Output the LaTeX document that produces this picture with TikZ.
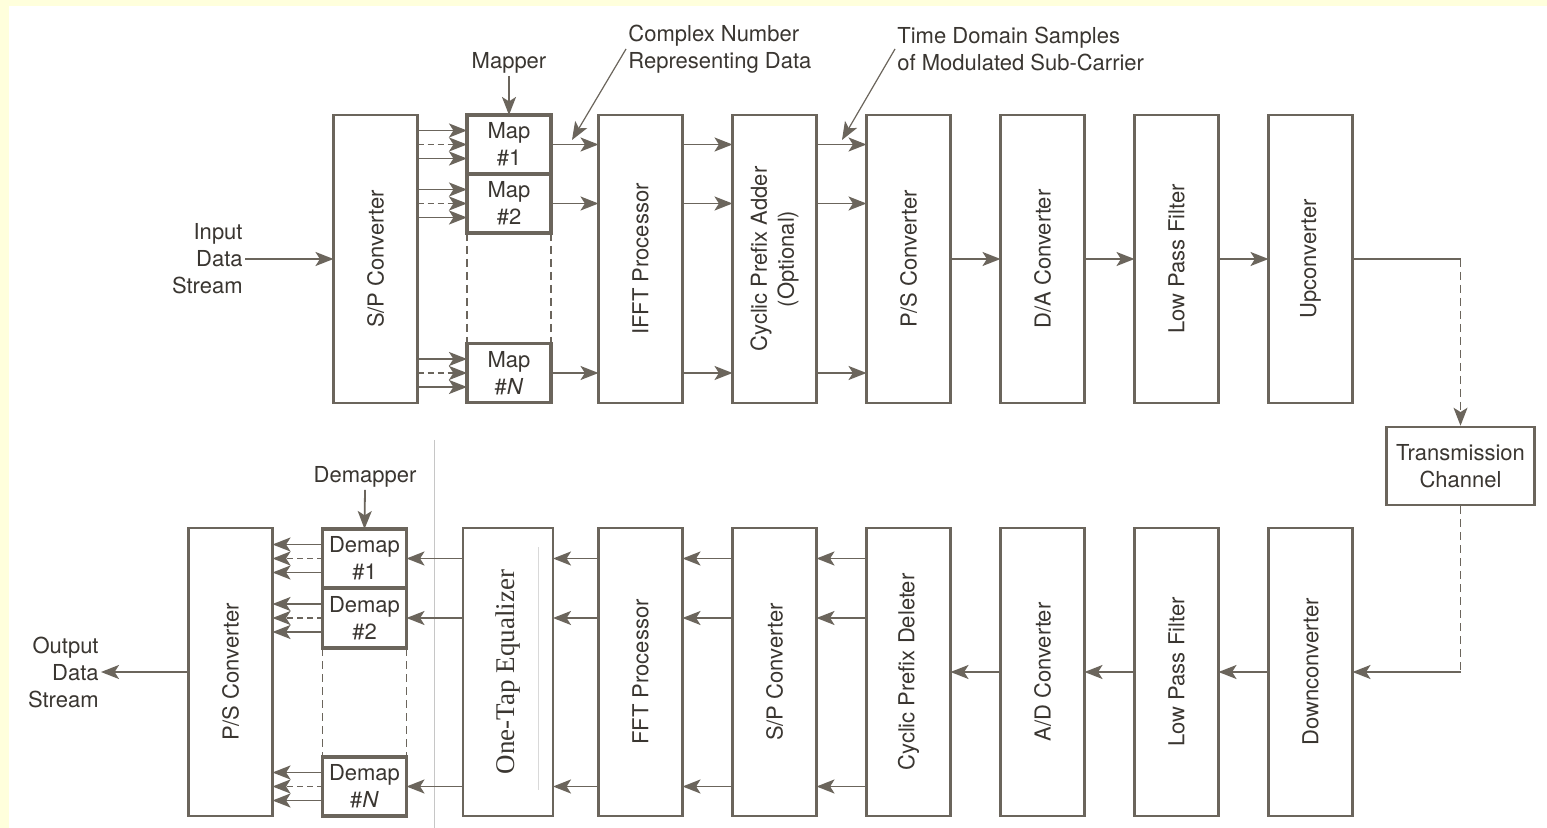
\documentclass[tikz,border=0pt]{standalone}
\usepackage{fontspec}
\setmainfont{TeX Gyre Heros}
\newfontfamily\eqfont{Liberation Serif}
\usetikzlibrary{arrows.meta,positioning,calc}
\definecolor{linec}{HTML}{6B655C}
\definecolor{txtc}{HTML}{3A3631}
\definecolor{scanyellow}{HTML}{FFFFDC}
\newcommand{\lbl}{\fontsize{11}{13.5}\selectfont}
\tikzset{
  block/.style={
    draw=linec,
    line width=1.3pt,
    minimum width=42pt,
    minimum height=144pt,
    inner sep=0pt,
    outer sep=0pt
  },
  mapblock/.style={
    draw=linec,
    line width=1.7pt,
    minimum width=42pt,
    minimum height=29.5pt,
    inner sep=0pt,
    outer sep=0pt,
    align=center,
    text=txtc,
    font=\lbl
  },
  vtext/.style={rotate=90, align=center, text=txtc, font=\lbl},
  note/.style={text=txtc, font=\lbl, inner sep=1pt},
  flow/.style={draw=linec, line width=0.9pt, -{Stealth[length=9pt,width=7pt,inset=2.2pt]}},
  dflow/.style={flow, dash pattern=on 3pt off 2pt},
  wire/.style={draw=linec, line width=0.9pt},
  guide/.style={draw=linec, line width=0.6pt, dash pattern=on 4pt off 2.5pt}
}

\begin{document}
\begin{tikzpicture}[x=0.5pt, y=-0.5pt, node distance=25pt]
\fill[white] (0,0) rectangle (1547,828);
\fill[scanyellow] (0,0) rectangle (1547,6);
\fill[scanyellow] (0,0) rectangle (9,828);
\useasboundingbox (0,0) rectangle (1547,828);

% transmitter
\node[block, label={[vtext]center:S/P Converter}] (sp) at (375.5,259) {};
\node[mapblock] (m1) at (509,144.5) {Map\\\#1};
\node[mapblock, below=0pt of m1] (m2) {Map\\\#2};
\node[mapblock] (mN) at (509,373) {Map\\\#\textit{N}};
\node[block, label={[vtext]center:IFFT Processor}] (ifft) at (640.5,259) {};
\node[block, right=of ifft, label={[vtext]center:{Cyclic Prefix Adder\\(Optional)}}] (cpa) {};
\node[block, right=of cpa, label={[vtext]center:P/S Converter}] (ps) {};
\node[block, right=of ps, label={[vtext]center:D/A Converter}] (da) {};
\node[block, right=of da, label={[vtext]center:Low Pass Filter}] (lpf) {};
\node[block, right=of lpf, label={[vtext]center:Upconverter}] (up) {};

\node[note, align=right, anchor=east] (in) at (245,259) {Input\\Data\\Stream};
\node[note] (mapper) at (509,63) {Mapper};
\node[note, align=left, anchor=west] (cn) at (626,49) {Complex Number\\Representing Data};
\node[note, align=left, anchor=west] (td) at (895,49) {Time Domain Samples\\of Modulated Sub-Carrier};
\coordinate (cnp) at (572,140);
\coordinate (tdp) at (842,140);

% channel
\node[draw=linec, line width=1.3pt, minimum width=74pt, minimum height=39pt, align=center, text=txtc, font=\lbl, inner sep=0pt] (tc) at (1460.5,466) {Transmission\\Channel};

% receiver
\node[block, label={[vtext]center:Downconverter}] (dc) at (1310.5,672) {};
\node[block, left=of dc, label={[vtext]center:Low Pass Filter}] (lpfb) {};
\node[block, left=of lpfb, label={[vtext]center:A/D Converter}] (ad) {};
\node[block, left=of ad, label={[vtext]center:Cyclic Prefix Deleter}] (cpd) {};
\node[block, left=of cpd, label={[vtext]center:S/P Converter}] (spb) {};
\node[block, left=of spb, label={[vtext]center:FFT Processor}] (fft) {};
\node[block, minimum width=45pt, left=22.75pt of fft, label={[vtext, font=\eqfont\fontsize{13.5}{15}\selectfont]center:One-Tap Equalizer}] (eq) {};
\node[mapblock] (dm1) at (364.5,558.5) {Demap\\\#1};
\node[mapblock, minimum height=30pt, below=0pt of dm1] (dm2) {Demap\\\#2};
\node[mapblock] (dmN) at (364.5,786.5) {Demap\\\#\textit{N}};
\node[block, label={[vtext]center:P/S Converter}] (psb) at (230.5,672) {};

\node[note, align=right, anchor=east] (out) at (101,672) {Output\\Data\\Stream};
\node[note] (demapper) at (365,477) {Demapper};

\draw[gray!45, line width=0.4pt] (434,440) -- (434,828);
\draw[gray!30, line width=0.4pt] (538,547) -- (538,790);

% transmitter links
\draw[flow] (in.east) -- (sp.west);
\draw[flow] (mapper.south) -- (m1.north);
\foreach \m in {m1,m2,mN}{
  \draw[flow] ($(sp.east|-\m.west)+(0,-14)$) -- ($(\m.west)+(0,-14)$);
  \draw[dflow] (sp.east|-\m.west) -- (\m.west);
  \draw[flow] ($(sp.east|-\m.west)+(0,14)$) -- ($(\m.west)+(0,14)$);
  \draw[flow] (\m.east) -- (ifft.west|-\m.east);
  \draw[flow] (ifft.east|-\m.east) -- (cpa.west|-\m.east);
  \draw[flow] (cpa.east|-\m.east) -- (ps.west|-\m.east);
}
\draw[guide] (m2.south west) -- (mN.north west);
\draw[guide] (m2.south east) -- (mN.north east);
\draw[flow] (ps.east) -- (da.west);
\draw[flow] (da.east) -- (lpf.west);
\draw[flow] (lpf.east) -- (up.west);
\draw[flow, line width=0.6pt] (cn.west) -- (cnp);
\draw[flow, line width=0.6pt] (td.west) -- (tdp);

% channel links
\draw[wire] (up.east) -- (up.east-|tc.north);
\draw[flow, line width=0.6pt, dash pattern=on 4pt off 2.5pt] (up.east-|tc.north) -- (tc.north);
\draw[wire, line width=0.6pt, dash pattern=on 4pt off 2.5pt] (tc.south) -- (tc.south|-dc.east);
\draw[flow] (tc.south|-dc.east) -- (dc.east);

% receiver links
\draw[flow] (dc.west) -- (lpfb.east);
\draw[flow] (lpfb.west) -- (ad.east);
\draw[flow] (ad.west) -- (cpd.east);
\foreach \d in {dm1,dm2,dmN}{
  \draw[flow] (cpd.west|-\d.east) -- (spb.east|-\d.east);
  \draw[flow] (spb.west|-\d.east) -- (fft.east|-\d.east);
  \draw[flow] (fft.west|-\d.east) -- (eq.east|-\d.east);
  \draw[flow] (eq.west|-\d.east) -- (\d.east);
  \draw[flow] ($(\d.west)+(0,-14)$) -- ($(psb.east|-\d.west)+(0,-14)$);
  \draw[dflow] (\d.west) -- (psb.east|-\d.west);
  \draw[flow] ($(\d.west)+(0,14)$) -- ($(psb.east|-\d.west)+(0,14)$);
}
\draw[guide] (dm2.south west) -- (dmN.north west);
\draw[guide] (dm2.south east) -- (dmN.north east);
\draw[flow] (demapper.south) -- (dm1.north);
\draw[flow] (psb.west) -- (out.east);
\end{tikzpicture}
\end{document}
